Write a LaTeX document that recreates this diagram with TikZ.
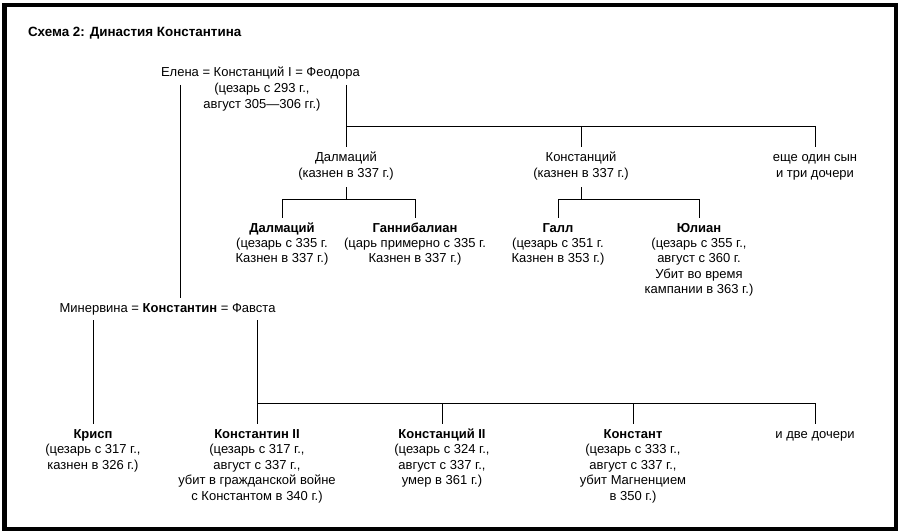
\documentclass[tikz,border=0pt]{standalone}
\usepackage{fontspec}
\setmainfont{Liberation Sans}
\usetikzlibrary{positioning}
\newcommand{\persontext}[1]{\begin{tabular}[t]{@{}c@{}}#1\end{tabular}}

\begin{document}
\begin{tikzpicture}[
    x=1pt, y=-1pt,
    every node/.style={font=\fontsize{13}{15.5}\selectfont, inner sep=0pt, outer xsep=0pt},
    oneline/.style={anchor=base, outer ysep=5pt, text height=9.5pt, text depth=3pt},
    person/.style={anchor=base, outer ysep=5pt, text height=9.5pt},
    link/.style={line width=0.9pt}
]
\useasboundingbox (0,0) rectangle (900,532);
\draw[line width=4.5pt] (4.25,5.25) rectangle (895.75,528.75);

\node[anchor=base west, font=\fontsize{13.4}{15.5}\selectfont\bfseries] (title) at (28,37) {Схема 2: Династия Константина};

\node[oneline] (helena) at (180,77) {Елена};
\node[oneline, base right=3.6pt of helena] (constantiusI) {= Констанций I =};
\node[oneline, base right=3.6pt of constantiusI] (theodora) {Феодора};
\node[person] (constantiusIinfo) at (262,93) {\persontext{(цезарь с 293 г.,\\август 305—306 гг.)}};

\node[person] (dalmatius) at (346,162) {\persontext{Далмаций\\(казнен в 337 г.)}};
\node[person] (constantius) at (581,162) {\persontext{Констанций\\(казнен в 337 г.)}};
\node[person] (moresons) at (815,162) {\persontext{еще один сын\\и три дочери}};

\node[person] (dalmatiusJr) at (282,232) {\persontext{\textbf{Далмаций}\\(цезарь с 335 г.\\Казнен в 337 г.)}};
\node[person] (hannibalianus) at (415,232) {\persontext{\textbf{Ганнибалиан}\\(царь примерно с 335 г.\\Казнен в 337 г.)}};
\node[person] (gallus) at (558,232) {\persontext{\textbf{Галл}\\(цезарь с 351 г.\\Казнен в 353 г.)}};
\node[person] (julian) at (699,232) {\persontext{\textbf{Юлиан}\\(цезарь с 355 г.,\\август с 360 г.\\Убит во время\\кампании в 363 г.)}};

\node[oneline, font=\fontsize{13}{15.5}\selectfont\bfseries] (constantine) at (180,312) {Константин};
\node[oneline, base left=3.6pt of constantine] (minervina) {Минервина =};
\node[oneline, base right=3.6pt of constantine] (fausta) {= Фавста};

\node[person] (crispus) at (93,438) {\persontext{\textbf{Крисп}\\(цезарь с 317 г.,\\казнен в 326 г.)}};
\node[person] (constantineII) at (257,438) {\persontext{\textbf{Константин II}\\(цезарь с 317 г.,\\август с 337 г.,\\убит в гражданской войне\\с Константом в 340 г.)}};
\node[person] (constantiusII) at (442,438) {\persontext{\textbf{Констанций II}\\(цезарь с 324 г.,\\август с 337 г.,\\умер в 361 г.)}};
\node[person] (constans) at (633,438) {\persontext{\textbf{Констант}\\(цезарь с 333 г.,\\август с 337 г.,\\убит Магненцием\\в 350 г.)}};
\node[oneline] (daughters) at (815,438) {и две дочери};

\coordinate (bar1) at (0,126);
\coordinate (bar2) at (0,199);
\coordinate (bar3) at (0,403);

\draw[link] (helena.south) -- (constantine.north);
\draw[link] (theodora.south -| dalmatius) -- (dalmatius.north);
\draw[link] (bar1 -| dalmatius) -- (bar1 -| moresons);
\foreach \kid in {constantius, moresons}
    \draw[link] (bar1 -| \kid) -- (\kid.north);

\draw[link] (dalmatius.south) -- (bar2 -| dalmatius);
\draw[link] (bar2 -| dalmatiusJr) -- (bar2 -| hannibalianus);
\foreach \kid in {dalmatiusJr, hannibalianus}
    \draw[link] (bar2 -| \kid) -- (\kid.north);

\draw[link] (constantius.south) -- (bar2 -| constantius);
\draw[link] (bar2 -| gallus) -- (bar2 -| julian);
\foreach \kid in {gallus, julian}
    \draw[link] (bar2 -| \kid) -- (\kid.north);

\draw[link] (minervina.south -| crispus) -- (crispus.north);
\draw[link] (fausta.south -| constantineII) -- (constantineII.north);
\draw[link] (bar3 -| constantineII) -- (bar3 -| daughters);
\foreach \kid in {constantiusII, constans, daughters}
    \draw[link] (bar3 -| \kid) -- (\kid.north);
\end{tikzpicture}
\end{document}
